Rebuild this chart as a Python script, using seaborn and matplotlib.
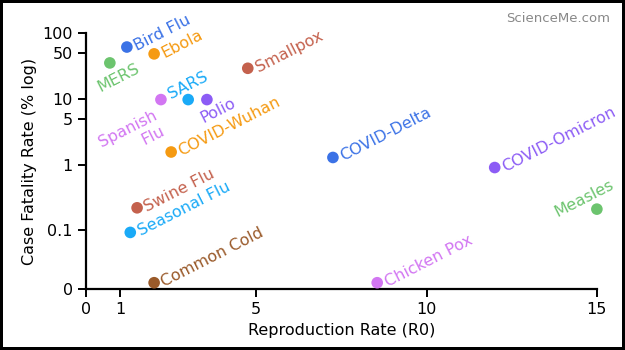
import matplotlib
matplotlib.use("Agg")
import matplotlib.pyplot as plt
import seaborn as sns
import pandas as pd

names = ["Bird Flu", "Ebola", "MERS", "Smallpox", "Spanish\nFlu", "SARS", "Polio",
         "COVID-Wuhan", "COVID-Delta", "COVID-Omicron", "Measles", "Swine Flu",
         "Seasonal Flu", "Common Cold", "Chicken Pox"]
r0 = [1.2, 2.0, 0.7, 4.75, 2.2, 3.0, 3.55, 2.5, 7.25, 12.0, 15.0, 1.5, 1.3, 2.0, 8.55]
cfr = [61, 48, 35, 29, 9.7, 9.7, 9.7, 1.55, 1.28, 0.9, 0.21, 0.22, 0.093, 0.016, 0.016]
colors = ["#3b72e6", "#f59a12", "#6cc46e", "#c4614d", "#d276f2", "#1aaaf7", "#8c5cf5",
          "#f59a12", "#3b72e6", "#8c5cf5", "#6cc46e", "#c4614d", "#1aaaf7", "#9a5a2a", "#d276f2"]
# label offsets in points (dx, dy) and alignment
offsets = [(6, 0, "left"), (6, 0, "left"), (6, -11, "center"), (6, 0, "left"),
           (-6, -6, "right"), (0, 10, "center"), (8, -8, "center"), (6, 0, "left"),
           (6, 0, "left"), (6, 0, "left"), (-9, 8, "center"), (6, 0, "left"),
           (6, 0, "left"), (6, 0, "left"), (6, 0, "left")]

xticks = [0, 1, 5, 10, 15]
yticks = [0.0128, 0.1, 1, 5, 10, 50, 100]
yticklabels = ["0", "0.1", "1", "5", "10", "50", "100"]

df = pd.DataFrame({"name": names, "r0": r0, "cfr": cfr})

sns.set_theme(style="ticks")
plt.rcParams["font.family"] = ["DejaVu Sans"]

fig = plt.figure(figsize=(6.25, 3.5), dpi=100)
ax = fig.add_axes([0.1376, 0.174, 0.8174, 0.732])

sns.scatterplot(data=df, x="r0", y="cfr", hue="name", palette=dict(zip(names, colors)),
                s=70, edgecolor="none", legend=False, ax=ax, clip_on=False, zorder=3)
ax.set_yscale("log")
ax.set_xlim(0, 15)
ax.set_ylim(0.0128, 100)
ax.set_xticks(xticks)
ax.set_xticklabels([str(t) for t in xticks])
ax.set_yticks(yticks)
ax.set_yticklabels(yticklabels)
ax.minorticks_off()
sns.despine(ax=ax)
for s in ["left", "bottom"]:
    ax.spines[s].set_linewidth(1.6)
    ax.spines[s].set_color("black")
ax.tick_params(axis="both", length=6, width=1.4, labelsize=11.5, colors="black", direction="out")
ax.set_xlabel("Reproduction Rate (R0)", fontsize=11.5, color="black")
ax.set_ylabel("Case Fatality Rate (% log)", fontsize=11.5, color="black")

for n, x, y, c, (dx, dy, ha) in zip(names, r0, cfr, colors, offsets):
    va = "center"
    if n.startswith("Spanish"):
        va = "top"
    ax.annotate(n, (x, y), xytext=(dx, dy), textcoords="offset points", color=c,
                fontsize=11.5, rotation=27, rotation_mode="anchor", ha=ha, va=va,
                multialignment="right", annotation_clip=False)

fig.text(0.976, 0.947, "ScienceMe.com", color="#888888", fontsize=9.5, ha="right", va="center")

fig.patch.set_edgecolor("black")
fig.patch.set_linewidth(3)
fig.savefig("out.png", dpi=100, edgecolor=fig.get_edgecolor())
